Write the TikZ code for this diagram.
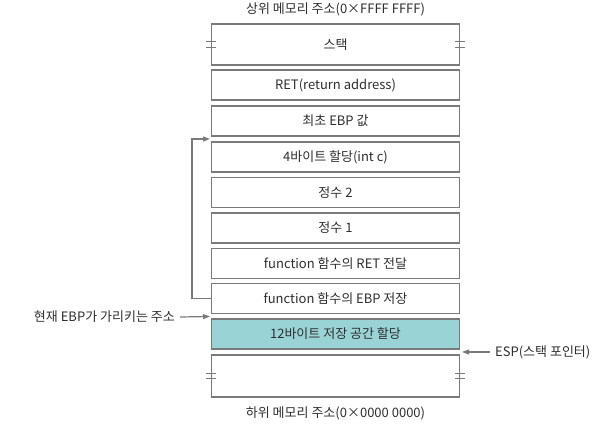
\documentclass[tikz,border=0pt]{standalone}
\usepackage{fontspec}
\usepackage{xcolor}
\usepackage{tikz}
\usetikzlibrary{arrows.meta}
\setmainfont{Noto Sans CJK KR}
\definecolor{linegray}{HTML}{7A7A7A}
\definecolor{txtgray}{HTML}{2E2E2E}
\definecolor{bufteal}{HTML}{9AD3D6}
\tikzset{
  cell/.style={draw=linegray, line width=1.4pt, fill=white, minimum width=248pt,
    minimum height=30pt, inner sep=0pt, text=txtgray, font=\fontsize{13}{15}\selectfont},
  label/.style={text=txtgray, inner sep=0pt, font=\fontsize{13}{15}\selectfont},
  ptr/.style={draw=linegray, line width=1.2pt, -{Triangle[length=7pt,width=5pt]}},
  brk/.style={draw=linegray, line width=1.2pt}
}
\begin{document}
\begin{tikzpicture}[x=1pt,y=-1pt]
  \useasboundingbox (0,0) rectangle (608,427);
  % top and bottom addresses
  \node[label] (hi) at (335.5,9) {상위 메모리 주소(0×FFFF FFFF)};
  \node[label] (lo) at (335.5,413) {하위 메모리 주소(0×0000 0000)};
  % stack cells
  \node[cell, minimum height=41pt] (stack) at (335.5,44.5) {스택};
  \node[cell] (ret) at (335.5,85) {RET(return address)};
  \node[cell] (ebp0) at (335.5,121) {최초 EBP 값};
  \node[cell] (alloc4) at (335.5,157) {4바이트 할당(int c)};
  \node[cell] (int2) at (335.5,192.5) {정수 2};
  \node[cell] (int1) at (335.5,228) {정수 1};
  \node[cell] (fret) at (335.5,263.5) {function 함수의 RET 전달};
  \node[cell] (febp) at (335.5,298.5) {function 함수의 EBP 저장};
  \node[cell, fill=bufteal] (buf12) at (335.5,334) {12바이트 저장 공간 할당};
  \node[cell, minimum height=42pt] (low) at (335.5,376) {};
  % break marks
  \foreach \b in {stack,low} {
    \draw[brk] ([xshift=-5pt,yshift=2.8pt]\b.west) -- ++(10,0);
    \draw[brk] ([xshift=-5pt,yshift=-2.8pt]\b.west) -- ++(10,0);
    \draw[brk] ([xshift=-5pt,yshift=2.8pt]\b.east) -- ++(10,0);
    \draw[brk] ([xshift=-5pt,yshift=-2.8pt]\b.east) -- ++(10,0);
  }
  % saved EBP points to the first EBP
  \coordinate (oldebp) at (210,139);
  \draw[ptr] (febp.west) -| (192,139) -- (oldebp);
  % pointers
  \node[label, anchor=east] (curebp) at (175,317) {현재 EBP가 가리키는 주소};
  \coordinate (ebpptr) at (210,316.5);
  \draw[ptr] (curebp.east) ++(5,0) -- (ebpptr);
  \node[label, anchor=west] (esp) at (495,352) {ESP(스택 포인터)};
  \coordinate (espptr) at (462,352);
  \draw[ptr] (esp.west) ++(-5,0) -- (espptr);
\end{tikzpicture}
\end{document}
